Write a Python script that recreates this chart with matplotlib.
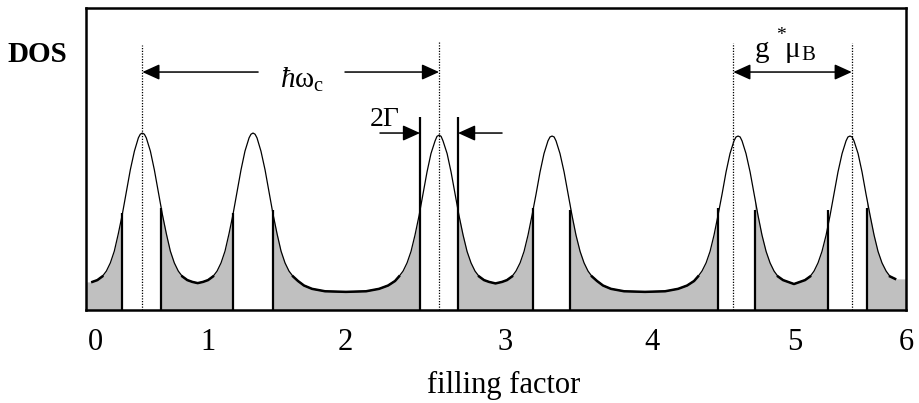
import matplotlib
matplotlib.use('Agg')
import matplotlib.pyplot as plt
import numpy as np
from matplotlib.patches import ArrowStyle

plt.rcParams['font.family'] = ['Liberation Serif', 'DejaVu Serif']
plt.rcParams['mathtext.fontset'] = 'custom'
plt.rcParams['mathtext.rm'] = 'Liberation Serif'
plt.rcParams['mathtext.it'] = 'Liberation Serif:italic'

# density of states curve (x: filling factor axis, y: DOS in % of box height)
dos_x = [
    0.046, 0.083, 0.119, 0.149, 0.178, 0.207, 0.236, 0.266, 0.295, 0.324, 0.354, 0.383, 0.397,
    0.412, 0.427, 0.441, 0.471, 0.500, 0.529, 0.558, 0.588, 0.617, 0.646, 0.675, 0.705, 0.741, 0.778,
    0.817,
    0.856, 0.893, 0.929, 0.959, 0.988, 1.017, 1.046, 1.076, 1.105, 1.134, 1.163, 1.193, 1.207,
    1.222, 1.237, 1.251, 1.280, 1.310, 1.339, 1.368, 1.398, 1.427, 1.456, 1.485,
    1.515, 1.551, 1.595, 1.654, 1.749, 1.902, 2.049, 2.144, 2.210, 2.261, 2.290,
    2.320, 2.349, 2.378, 2.407, 2.437, 2.466, 2.495, 2.524, 2.554, 2.568, 2.583, 2.598, 2.612,
    2.642, 2.671, 2.700, 2.729, 2.759, 2.788, 2.817, 2.846, 2.876, 2.912, 2.949,
    2.996,
    3.044, 3.080, 3.117, 3.146, 3.176, 3.205, 3.234, 3.263, 3.293, 3.322, 3.351, 3.380, 3.395,
    3.410, 3.425, 3.439, 3.468, 3.498, 3.527, 3.556, 3.585, 3.615, 3.644, 3.673,
    3.702, 3.739, 3.783, 3.841, 3.937, 4.090, 4.237, 4.332, 4.398, 4.449, 4.478,
    4.507, 4.537, 4.566, 4.595, 4.624, 4.654, 4.683, 4.712, 4.741, 4.756, 4.771, 4.786, 4.800,
    4.829, 4.859, 4.888, 4.917, 4.946, 4.976, 5.005, 5.034, 5.063, 5.100, 5.137,
    5.180,
    5.224, 5.261, 5.298, 5.327, 5.356, 5.385, 5.415, 5.444, 5.473, 5.502, 5.532, 5.561, 5.575,
    5.590, 5.605, 5.619, 5.649, 5.678, 5.707, 5.737, 5.766, 5.795, 5.824, 5.854, 5.883, 5.920,
]
dos_y = [
    9.3, 9.9, 11.1, 12.9, 15.6, 19.5, 25.2, 31.8, 39.1, 46.4, 52.6, 57.0, 58.2,
    58.6, 58.2, 57.0, 52.6, 46.4, 39.1, 31.8, 25.2, 19.5, 15.6, 12.9, 11.1, 9.9, 9.3,
    8.9,
    9.3, 9.9, 11.1, 12.9, 15.6, 19.5, 25.2, 31.8, 39.1, 46.4, 52.6, 57.0, 58.2,
    58.6, 58.2, 57.0, 52.6, 46.4, 39.1, 31.8, 25.2, 19.5, 15.6, 12.9,
    11.1, 9.6, 8.1, 7.0, 6.2, 6.0, 6.2, 7.0, 8.1, 9.6, 11.1,
    12.9, 15.6, 19.4, 24.8, 31.3, 38.4, 45.7, 51.8, 56.0, 57.5, 57.9, 57.5, 56.0,
    51.8, 45.7, 38.4, 31.3, 24.8, 19.4, 15.6, 12.9, 11.1, 9.9, 9.3,
    8.8,
    9.3, 9.9, 11.1, 12.9, 15.6, 19.4, 24.8, 31.3, 38.4, 45.7, 51.8, 56.0, 57.3,
    57.6, 57.3, 56.0, 51.8, 45.7, 38.4, 31.3, 24.8, 19.4, 15.6, 12.9,
    11.1, 9.6, 8.1, 7.0, 6.2, 6.0, 6.2, 7.0, 8.1, 9.6, 11.1,
    12.9, 15.6, 19.4, 24.8, 31.3, 38.4, 45.7, 51.8, 56.0, 57.3, 57.6, 57.3, 56.0,
    51.8, 45.7, 38.4, 31.3, 24.8, 19.4, 15.6, 12.9, 11.1, 9.9, 9.3,
    8.6,
    9.3, 9.9, 11.1, 12.9, 15.6, 19.4, 24.8, 31.3, 38.4, 45.7, 51.8, 56.0, 57.3,
    57.6, 57.3, 56.0, 51.8, 45.7, 38.4, 31.3, 24.8, 19.4, 15.6, 12.9, 11.1, 10.3,
]

tick_pos = [0.066, 0.893, 1.895, 3.066, 4.141, 5.188, 6.0]
tick_labels = ['0', '1', '2', '3', '4', '5', '6']

# unshaded (extended-state) windows around each level
gap_lo = [0.261, 1.073, 2.444, 3.271, 4.624, 5.429]
gap_hi = [0.549, 1.366, 2.722, 3.541, 4.895, 5.715]
gap_lo_top = [32.1, 32.1, 63.9, 33.8, 33.8, 33.1]
gap_hi_top = [33.9, 33.1, 63.9, 33.1, 33.1, 33.8]

# dotted level markers
level_x = [0.412, 2.583, 4.736, 5.603]
level_top = [87.7, 88.7, 88.4, 88.4]

fig = plt.figure(figsize=(9.19, 4.03), dpi=100)
ax = fig.add_axes([0.0936, 0.2308, 0.8923, 0.7493])
ax.set_xlim(0, 6)
ax.set_ylim(0, 100)

xa = np.array(dos_x)
ya = np.array(dos_y)
fx = np.concatenate([[0.0], xa, [6.0]])
fy = np.concatenate([[ya[0]], ya, [ya[-1]]])
ax.fill_between(fx, 0, fy, color='#c0c0c0', lw=0, zorder=1)
for lo, hi in zip(gap_lo, gap_hi):
    ax.axvspan(lo, hi, color='white', lw=0, zorder=2)

ax.plot(xa, ya, color='k', lw=0.9, zorder=3)
ax.plot(xa, np.where(ya < 11.5, ya, np.nan), color='k', lw=1.8, zorder=3)

ax.vlines(gap_lo, 0, gap_lo_top, colors='k', lw=1.6, zorder=4)
ax.vlines(gap_hi, 0, gap_hi_top, colors='k', lw=1.6, zorder=4)
ax.vlines(level_x, 0, level_top, colors='k', lw=0.9, linestyles=(0, (1, 1.2)), zorder=4)


def arrow(tail, tip, y, style='-|>'):
    ax.annotate('', xy=(tip, y), xytext=(tail, y),
                arrowprops=dict(arrowstyle=ArrowStyle(style, head_length=0.75, head_width=0.34),
                                mutation_scale=14, color='k', lw=1.1,
                                shrinkA=0, shrinkB=0), zorder=5)


arrow(1.259, level_x[0], 78.8)
arrow(1.895, level_x[1], 78.8)
arrow(2.151, gap_lo[2], 58.6)
arrow(3.044, gap_hi[2], 58.6)
arrow(level_x[2], level_x[3], 78.8, style='<|-|>')

ax.text(1.581, 73.5, r'$\mathit{ħ}\mathrm{ω}_{\mathrm{c}}$', fontsize=21,
        ha='center', va='baseline', zorder=6)
ax.text(2.188, 60.8, '2Γ', fontsize=20, ha='center', va='baseline', zorder=6)
ax.text(4.895, 83.8, 'g', fontsize=21, va='baseline', zorder=6)
ax.text(5.049, 89.4, '*', fontsize=14, va='baseline', zorder=6)
ax.text(5.110, 83.8, 'μ', fontsize=21, va='baseline', zorder=6)
ax.text(5.232, 82.8, 'B', fontsize=15, va='baseline', zorder=6)

fig.text(0.041, 0.866, 'DOS', fontsize=21, fontweight='bold', ha='center', va='center')
fig.text(0.548, 0.0250, 'filling factor', fontsize=22, ha='center', va='baseline')

ax.set_xticks(tick_pos, tick_labels)
ax.tick_params(axis='x', length=0, pad=13, labelsize=22)
ax.set_yticks([])
for s in ax.spines.values():
    s.set_linewidth(1.8)
    s.set_zorder(7)

fig.savefig('out.png', dpi=100)
